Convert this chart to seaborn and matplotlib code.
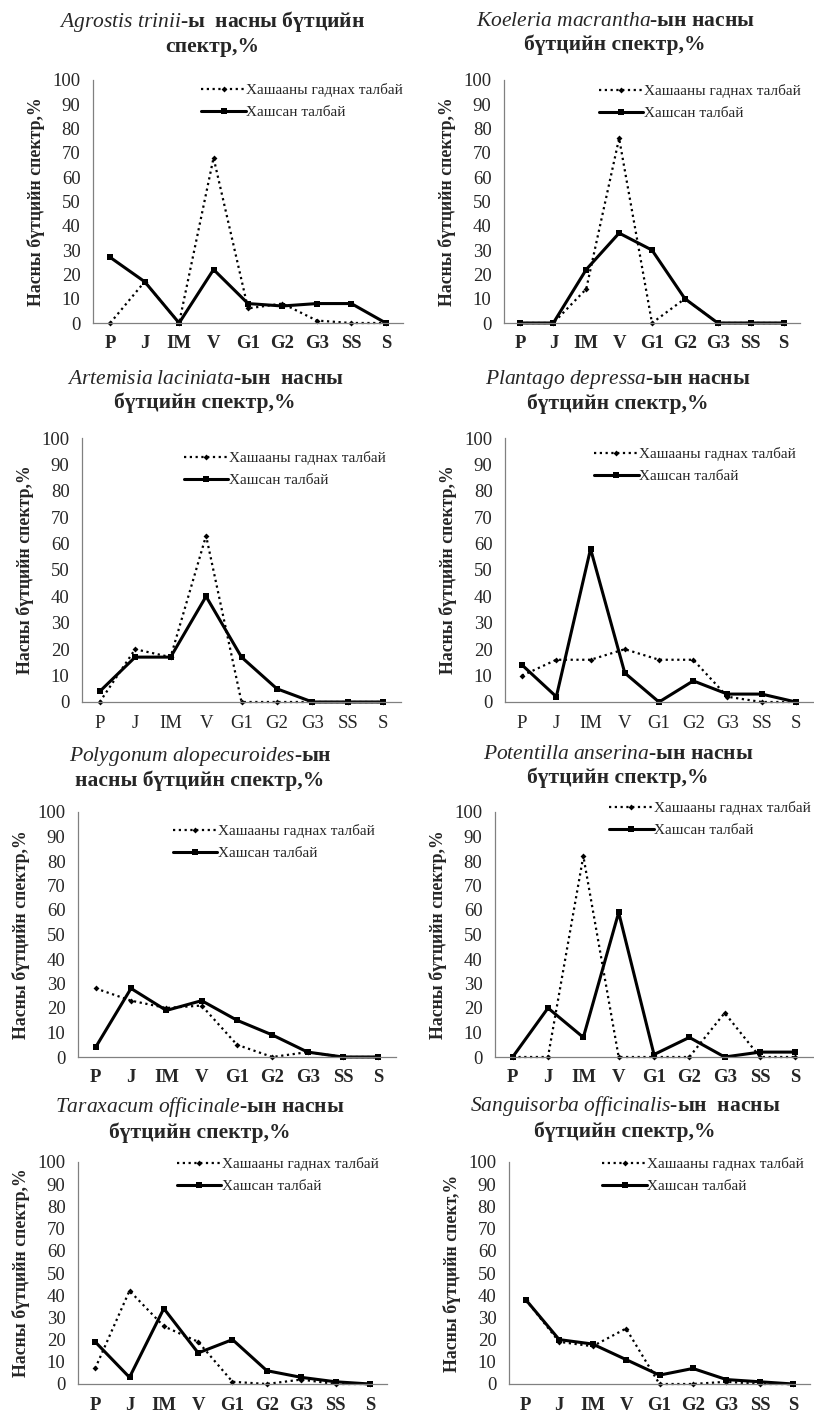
import pandas as pd
import numpy as np
import matplotlib
matplotlib.use("Agg")
import matplotlib.pyplot as plt
import seaborn as sns

# stages (age spectrum)
stages = ["P", "J", "IM", "V", "G1", "G2", "G3", "SS", "S"]
lab_out = "Хашааны гаднах талбай"
lab_in = "Хашсан талбай"

# values, %
agrostis_out = [0, 17, 0, 68, 6, 8, 1, 0, 0]
agrostis_in = [27, 17, 0, 22, 8, 7, 8, 8, 0]
koeleria_out = [0, 0, 14, 76, 0, 10, 0, 0, 0]
koeleria_in = [0, 0, 22, 37, 30, 10, 0, 0, 0]
artemisia_out = [0, 20, 17, 63, 0, 0, 0, 0, 0]
artemisia_in = [4, 17, 17, 40, 17, 5, 0, 0, 0]
plantago_out = [10, 16, 16, 20, 16, 16, 2, 0, 0]
plantago_in = [14, 2, 58, 11, 0, 8, 3, 3, 0]
polygonum_out = [28, 23, 20, 21, 5, 0, 2, 0, 0]
polygonum_in = [4, 28, 19, 23, 15, 9, 2, 0, 0]
potentilla_out = [0, 0, 82, 0, 0, 0, 18, 0, 0]
potentilla_in = [0, 20, 8, 59, 1, 8, 0, 2, 2]
taraxacum_out = [7, 42, 26, 19, 1, 0, 2, 0, 0]
taraxacum_in = [19, 3, 34, 14, 20, 6, 3, 1, 0]
sanguisorba_out = [38, 19, 17, 25, 0, 0, 1, 0, 0]
sanguisorba_in = [38, 20, 18, 11, 4, 7, 2, 1, 0]

titles = [
    r"$\mathit{Agrostis\ trinii}$-ы  насны бүтцийн" + "\nспектр,%",
    r"$\mathit{Koeleria\ macrantha}$-ын насны" + "\nбүтцийн спектр,%",
    r"$\mathit{Artemisia\ laciniata}$-ын  насны" + "\nбүтцийн спектр,%",
    r"$\mathit{Plantago\ depressa}$-ын насны" + "\nбүтцийн спектр,%",
    r"$\mathit{Polygonum\ alopecuroides}$-ын" + "\nнасны бүтцийн спектр,%",
    r"$\mathit{Potentilla\ anserina}$-ын насны" + "\nбүтцийн спектр,%",
    r"$\mathit{Taraxacum\ officinale}$-ын насны" + "\nбүтцийн спектр,%",
    r"$\mathit{Sanguisorba\ officinalis}$-ын  насны" + "\nбүтцийн спектр,%",
]
ylabels = ["Насны бүтцийн спектр,%"] * 7 + ["Насны бүтцийн спект,%"]

series = [
    (agrostis_out, agrostis_in), (koeleria_out, koeleria_in),
    (artemisia_out, artemisia_in), (plantago_out, plantago_in),
    (polygonum_out, polygonum_in), (potentilla_out, potentilla_in),
    (taraxacum_out, taraxacum_in), (sanguisorba_out, sanguisorba_in),
]

# layout in pixels: left, right, top(100), bottom(0)
W, H = 814, 1413
boxes = [
    (93, 403, 80, 323), (504, 800, 80, 323),
    (82, 401, 438, 702), (505, 813, 438, 702),
    (78, 396, 812, 1057), (495, 813, 812, 1057),
    (78, 387, 1162, 1384), (509, 810, 1162, 1384),
]
title_pos = [(212, 33), (615, 33), (205, 391), (618, 391),
             (200, 768), (618, 766), (200, 1119), (625, 1118)]
legend_anchor = [(0.33, 1.012), (0.30, 1.008), (0.30, 0.973), (0.27, 0.989),
                 (0.28, 0.976), (0.34, 1.07), (0.30, 1.05), (0.29, 1.05)]
bold_xticks = [True, True, False, False, True, True, True, True]

sns.set_style("white")
plt.rcParams["font.family"] = ["Liberation Serif", "DejaVu Serif"]
plt.rcParams["mathtext.fontset"] = "custom"
plt.rcParams["mathtext.it"] = "Liberation Serif:italic"
plt.rcParams["mathtext.rm"] = "Liberation Serif"

fig = plt.figure(figsize=(W / 100, H / 100), dpi=100)

for i, (out_vals, in_vals) in enumerate(series):
    l, r, t, b = boxes[i]
    ax = fig.add_axes([l / W, 1 - b / H, (r - l) / W, (b - t) / H])

    sns.lineplot(x=stages, y=out_vals, ax=ax, sort=False, color="black",
                 linestyle=(0, (1, 1.6)), linewidth=1.6, marker="D",
                 markersize=3, markeredgewidth=0, label=lab_out, clip_on=False)
    sns.lineplot(x=stages, y=in_vals, ax=ax, sort=False, color="black",
                 linestyle="-", linewidth=2.2, marker="s",
                 markersize=4, markeredgewidth=0, label=lab_in, clip_on=False)

    ax.set_xlim(-0.5, 8.5)
    ax.set_ylim(0, 100)
    ax.set_yticks(np.arange(0, 101, 10))
    ax.tick_params(axis="both", length=0, labelsize=13.5)
    ax.tick_params(axis="x", pad=9)
    ax.tick_params(axis="y", pad=9)
    if bold_xticks[i]:
        for lab in ax.get_xticklabels():
            lab.set_fontweight("bold")
    ax.set_xlabel("")
    ax.set_ylabel(ylabels[i], fontsize=12.8, fontweight="bold", labelpad=5)
    sns.despine(ax=ax)
    for side in ["left", "bottom"]:
        ax.spines[side].set_color("#808080")
        ax.spines[side].set_linewidth(0.9)

    ax.legend(loc="upper left", bbox_to_anchor=legend_anchor[i], frameon=False,
              fontsize=11, handlelength=2.9, handletextpad=0.05,
              labelspacing=0.55, borderaxespad=0)

    tx, ty = title_pos[i]
    fig.text(tx / W, 1 - ty / H, titles[i], ha="center", va="center",
             fontsize=15.5, fontweight="bold", linespacing=1.2)

fig.savefig("out.png", dpi=100)
